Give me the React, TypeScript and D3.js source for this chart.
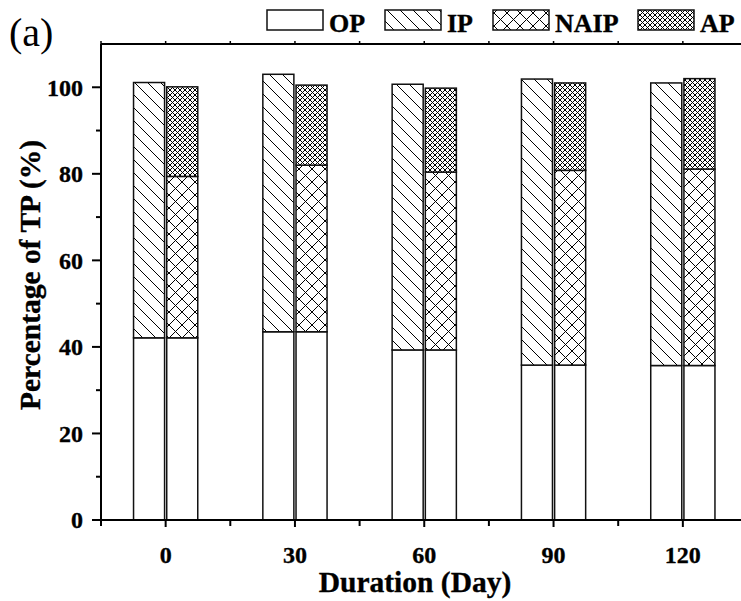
import React from 'react';
import * as d3 from 'd3';

// data (percentage of TP)
const days = [0, 30, 60, 90, 120];
const opValues = [42.1, 43.5, 39.3, 35.8, 35.7];
const ipValues = [59.0, 59.5, 61.4, 66.1, 65.3];
const naipValues = [37.3, 38.5, 41.1, 45.0, 45.4];
const apValues = [20.7, 18.5, 19.4, 20.2, 20.9];
const yTicks = [0, 20, 40, 60, 80, 100];
const yMinor = [10, 30, 50, 70, 90];
const xMinor = [-15, 15, 45, 75, 105, 135];
const legendItems = ['OP', 'IP', 'NAIP', 'AP'];

const W = 741;
const H = 601;
const font = '"Times New Roman", Times, "Liberation Serif", serif';

const App = () => {
    const x = d3.scaleLinear().domain([-15, 135]).range([101, 747.5]);
    const y = d3.scaleLinear().domain([0, 110]).range([520, 44]);

    const barW = 7.2; // in days
    const gap = 0.25;

    const fills: Record<string, string> = {
        OP: '#fff',
        IP: 'url(#pIP)',
        NAIP: 'url(#pNAIP)',
        AP: 'url(#pAP)',
    };

    // left bar: OP + IP ; right bar: OP + NAIP + AP
    const rects: { key: string; x0: number; x1: number; y0: number; y1: number; fill: string }[] = [];
    days.forEach((d, i) => {
        const left = d3.stack().keys(['OP', 'IP'])([{ OP: opValues[i], IP: ipValues[i] }] as any);
        left.forEach(s => {
            rects.push({ key: `l${i}${s.key}`, x0: d - gap - barW, x1: d - gap, y0: s[0][0], y1: s[0][1], fill: fills[s.key] });
        });
        const right = d3.stack().keys(['OP', 'NAIP', 'AP'])([{ OP: opValues[i], NAIP: naipValues[i], AP: apValues[i] }] as any);
        right.forEach(s => {
            rects.push({ key: `r${i}${s.key}`, x0: d + gap, x1: d + gap + barW, y0: s[0][0], y1: s[0][1], fill: fills[s.key] });
        });
    });

    const legendX = [267, 385, 493, 638];
    const bold = { fontFamily: font, fontWeight: 'bold' as const, stroke: '#000', strokeWidth: 0.35 };

    return (
        <svg width={W} height={H} style={{ position: 'absolute', left: 0, top: 0, background: '#fff' }}>
            <defs>
                <pattern id="pIP" patternUnits="userSpaceOnUse" width="13" height="13">
                    <rect width="13" height="13" fill="#fff" />
                    <path d="M0,0L13,13M-2,11L2,15M11,-2L15,2" stroke="#000" strokeWidth="1" />
                </pattern>
                <pattern id="pNAIP" patternUnits="userSpaceOnUse" width="13" height="13">
                    <rect width="13" height="13" fill="#fff" />
                    <path d="M0,0L13,13M-2,11L2,15M11,-2L15,2M13,0L0,13M-2,2L2,-2M11,15L15,11" stroke="#000" strokeWidth="1" />
                </pattern>
                <pattern id="pAP" patternUnits="userSpaceOnUse" width="5" height="5">
                    <rect width="5" height="5" fill="#fff" />
                    <path d="M0,0L5,5M-1,4L1,6M4,-1L6,1M5,0L0,5M-1,1L1,-1M4,6L6,4" stroke="#000" strokeWidth="1" />
                </pattern>
            </defs>

            {/* bars */}
            {rects.map(r => (
                <rect
                    key={r.key}
                    x={x(r.x0)}
                    y={y(r.y1)}
                    width={x(r.x1) - x(r.x0)}
                    height={y(r.y0) - y(r.y1)}
                    fill={r.fill}
                    stroke="#111"
                    strokeWidth={1.5}
                />
            ))}

            {/* frame */}
            <line x1={x(-15)} x2={W} y1={y(0)} y2={y(0)} stroke="#000" strokeWidth={2} />
            <line x1={x(-15)} x2={W} y1={y(110)} y2={y(110)} stroke="#000" strokeWidth={2} />
            <line x1={x(-15)} x2={x(-15)} y1={y(0)} y2={y(110)} stroke="#000" strokeWidth={2} />

            {/* y ticks */}
            {yTicks.map(t => (
                <g key={`yt${t}`}>
                    <line x1={x(-15) - 9} x2={x(-15)} y1={y(t)} y2={y(t)} stroke="#000" strokeWidth={2} />
                    <text x={83} y={y(t)} dy="0.35em" textAnchor="end" {...bold} fontSize={24}>{t}</text>
                </g>
            ))}
            {yMinor.map(t => (
                <line key={`ym${t}`} x1={x(-15) - 5} x2={x(-15)} y1={y(t)} y2={y(t)} stroke="#000" strokeWidth={2} />
            ))}

            {/* x ticks */}
            {days.map(d => (
                <g key={`xt${d}`}>
                    <line x1={x(d)} x2={x(d)} y1={y(0)} y2={y(0) + 7} stroke="#000" strokeWidth={2} />
                    <line x1={x(d)} x2={x(d)} y1={y(110)} y2={y(110) - 3} stroke="#000" strokeWidth={1.5} />
                    <text x={x(d)} y={563} textAnchor="middle" {...bold} fontSize={24}>{d}</text>
                </g>
            ))}
            {xMinor.map(d => (
                <g key={`xm${d}`}>
                    <line x1={x(d)} x2={x(d)} y1={y(0)} y2={y(0) + 6} stroke="#000" strokeWidth={2} />
                    <line x1={x(d)} x2={x(d)} y1={y(110)} y2={y(110) - 3} stroke="#000" strokeWidth={1.5} />
                </g>
            ))}

            {/* axis titles */}
            <text x={415} y={592} textAnchor="middle" {...bold} fontSize={29.5}>Duration (Day)</text>
            <text transform="translate(40,275) rotate(-90)" textAnchor="middle" {...bold} fontSize={29.5}>Percentage of TP (%)</text>

            {/* panel label */}
            <text x={9} y={46} fontFamily={font} fontSize={40}>(a)</text>

            {/* legend */}
            {legendItems.map((k, i) => (
                <g key={`lg${k}`}>
                    <rect x={legendX[i]} y={10} width={56} height={20} fill={fills[k]} stroke="#111" strokeWidth={1.5} />
                    <text x={legendX[i] + 62} y={32} {...bold} fontSize={26}>{k}</text>
                </g>
            ))}
        </svg>
    );
};

export default App;
